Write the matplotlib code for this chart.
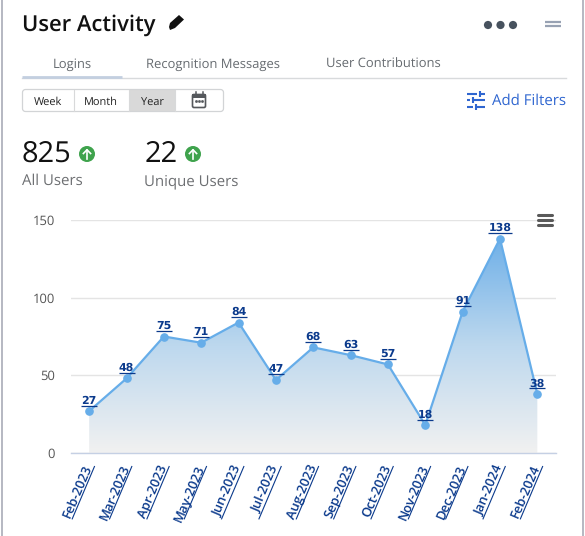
import numpy as np
import matplotlib
matplotlib.use("Agg")
import matplotlib.pyplot as plt
from matplotlib.patches import Circle, FancyBboxPatch, Polygon, Rectangle
from matplotlib.colors import LinearSegmentedColormap

months = ["Feb-2023", "Mar-2023", "Apr-2023", "May-2023", "Jun-2023", "Jul-2023", "Aug-2023",
          "Sep-2023", "Oct-2023", "Nov-2023", "Dec-2023", "Jan-2024", "Feb-2024"]
logins = [27, 48, 75, 71, 84, 47, 68, 63, 57, 18, 91, 138, 38]
y_ticks = [0, 50, 100, 150]
tabs = ["Logins", "Recognition Messages", "User Contributions"]
periods = ["Week", "Month", "Year"]
stats = [("825", "All Users"), ("22", "Unique Users")]

W, H = 585, 536
plt.rcParams["font.family"] = ["Open Sans", "Noto Sans", "DejaVu Sans"]
plt.rcParams["text.hinting"] = "no_hinting"
plt.rcParams["text.hinting_factor"] = 1
fig = plt.figure(figsize=(W / 100, H / 100), dpi=100, facecolor="white")

# Dashboard chrome lives on a full-figure layer measured in pixels from the top left
ui = fig.add_axes([0, 0, 1, 1], zorder=3)
ui.set_xlim(0, W)
ui.set_ylim(H, 0)
ui.axis("off")

ui.plot([1.5, 1.5], [0, H], color="#a9acb8", lw=1.2)
ui.plot([583, 583], [0, H], color="#a9acb8", lw=1.2)

ui.text(22, 31, "User Activity", fontsize=16, fontweight="semibold", color="#111111", va="baseline")

# Pencil icon
ui.add_patch(Polygon([(169, 27), (170, 23), (179, 15), (184, 19.5), (175, 28), (170, 30)], color="#111111", lw=0))

for cx in (488, 500.5, 513):
    ui.add_patch(Circle((cx, 25), 4.1, color="#47525e", lw=0))
for yy in (21.5, 26):
    ui.plot([544.5, 560.5], [yy, yy], color="#98a2b3", lw=1.6, solid_capstyle="butt")

# Tabs
for label, x in zip(tabs, (72, 212.5, 383.5)):
    ui.text(x, 68, label, fontsize=9.3, color="#666b70", ha="center", va="baseline")
ui.plot([22, 566], [77.5, 77.5], color="#d8dadc", lw=1)
ui.plot([22, 122], [76.5, 76.5], color="#c3cfe0", lw=2, solid_capstyle="butt")

# Period selector
ui.add_patch(Rectangle((129, 90), 46, 21, color="#d9d9d9", lw=0))
ui.add_patch(FancyBboxPatch((22.5, 89.5), 201, 22, boxstyle="round,pad=0,rounding_size=3",
                            fc="none", ec="#d2d4d6", lw=0.9))
for xx in (73.5, 129, 175):
    ui.plot([xx, xx], [90, 111], color="#d8d9da", lw=0.8)
for label, x in zip(periods, (47.5, 101, 152)):
    ui.text(x, 105, label, fontsize=7.8, color="#222222", ha="center", va="baseline")

# Calendar icon
ui.add_patch(FancyBboxPatch((192.5, 94.5), 13, 13, boxstyle="round,pad=0,rounding_size=1.5",
                            fc="white", ec="#55585c", lw=1.2))
ui.add_patch(Rectangle((192, 94), 14, 3.5, color="#55585c", lw=0))
for xx in (195.5, 202.5):
    ui.plot([xx, xx], [92, 95], color="#55585c", lw=1.1)
for xx in (196, 199, 202):
    ui.plot([xx], [101], "s", color="#55585c", ms=0.9)

# Filter icon and link
blue_link = "#2f66d0"
for yy, knob in ((93.5, 480), (100, 473), (106.5, 476)):
    ui.plot([467, 485], [yy, yy], color=blue_link, lw=1.5, solid_capstyle="butt")
    ui.add_patch(Rectangle((knob - 3.2, yy - 1.5), 2, 3, color="white", lw=0, zorder=3))
    ui.plot([knob, knob], [yy - 3, yy + 3], color=blue_link, lw=1.5, solid_capstyle="butt", zorder=4)
ui.text(492, 104.5, "Add Filters", fontsize=10.6, color=blue_link, va="baseline")

# Headline figures
for (value, label), x, arrow_x in zip(stats, (22, 144.5), (87, 193)):
    ui.text(x, 162, value, fontsize=21, color="#111111", va="baseline")
    ui.text(x, 185, label, fontsize=10.6, color="#6d6f72", va="baseline")
    ui.add_patch(Circle((arrow_x, 154), 8, color="#3fa34d", lw=0))
    ui.plot([arrow_x, arrow_x], [158.5, 150], color="white", lw=1.2)
    ui.plot([arrow_x - 3.6, arrow_x, arrow_x + 3.6], [153.5, 149.8, 153.5], color="white", lw=1.2)

# Menu icon in the chart corner
for yy in (214.5, 220, 225):
    ui.plot([538, 552], [yy, yy], color="#595959", lw=2.2, solid_capstyle="round", zorder=5)

# Chart axes
left, right, top, bottom = 70.5, 556, 220, 453
ax = fig.add_axes([left / W, 1 - bottom / H, (right - left) / W, (bottom - top) / H], zorder=2)
ax.patch.set_alpha(0)
x = np.arange(len(months))
for side in ("top", "right", "left"):
    ax.spines[side].set_visible(False)
ax.spines["bottom"].set_color("#c5d0e4")
ax.spines["bottom"].set_linewidth(1)
ax.set_yticks(y_ticks)
ax.set_yticklabels([str(t) for t in y_ticks], fontsize=9, color="#555555")
ax.tick_params(axis="y", length=0, pad=11)
ax.grid(axis="y", color="#e4e4e4", lw=1)
ax.set_axisbelow(True)

# Area with a vertical gradient clipped to the series outline
fill_cmap = LinearSegmentedColormap.from_list("area", ["#f1f1f1", "#bdd8ee", "#6fb0e8"])
grad = np.linspace(0, 1, 256).reshape(-1, 1)
img = ax.imshow(grad, origin="lower", cmap=fill_cmap, aspect="auto",
                extent=(x[0], x[-1], 0, max(logins)), zorder=1.5)
img.set_clip_path(Polygon(list(zip(x, logins)) + [(x[-1], 0), (x[0], 0)], closed=True, transform=ax.transData))
ax.set_xlim(-0.5, len(months) - 0.5)
ax.set_ylim(0, 150)

ax.plot(x, logins, color="#66ade9", lw=1.6, marker="o", ms=5.2, zorder=3, clip_on=False)

# Underlined navy labels for the values and the months
navy = "#0b3a8c"
px = 72 / fig.dpi
to_ui = ui.transData.inverted()
for xi, v in zip(x, logins):
    ax.annotate(str(v), (xi, v), xytext=(0, 7.5 * px), textcoords="offset points",
                ha="center", va="baseline", fontsize=8, fontweight="semibold", color=navy,
                family=["DejaVu Sans"], zorder=5)
    half = 12 if v >= 100 else 8
    cx, cy = to_ui.transform(ax.transData.transform((xi, v)))
    ui.plot([cx - half, cx + half], [cy - 5.5, cy - 5.5], color=navy, lw=0.9, solid_capstyle="butt", zorder=5)

angle = 67
ax.set_xticks(x)
ax.set_xticklabels(months, rotation=angle, rotation_mode="anchor", ha="right", va="center",
                   fontsize=9.2, color=navy, fontweight="semibold")
ax.tick_params(axis="x", length=0, pad=9)

# Month underlines follow the slant of the rotated tick labels
theta = np.deg2rad(angle)
for xi in x:
    bx, by = to_ui.transform(ax.transData.transform((xi, 0)))
    x0, y0 = bx + 5.5, by + 13
    ui.plot([x0, x0 - 58 * np.cos(theta)], [y0, y0 + 58 * np.sin(theta)],
            color=navy, lw=0.8, solid_capstyle="butt")

fig.savefig("out.png", dpi=100)
